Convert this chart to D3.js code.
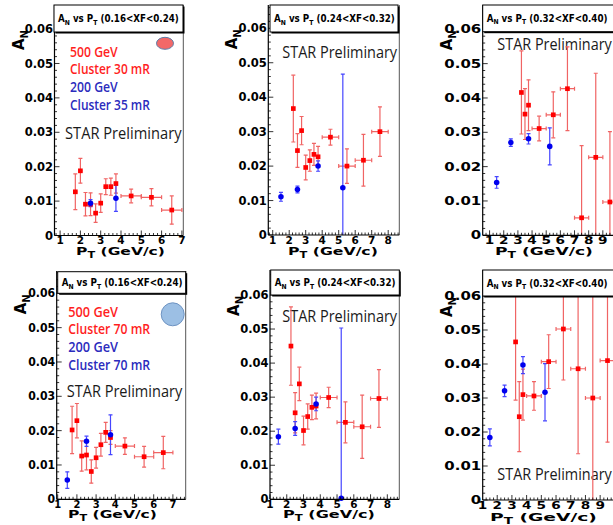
<!DOCTYPE html>
<html><head><meta charset="utf-8">
<script src="https://cdn.jsdelivr.net/npm/d3@7"></script>
<style>body{margin:0;background:#fff}svg{display:block}</style>
</head><body>
<svg id="c" width="613" height="525"></svg>
<script>
// ---------------- data ----------------
const titleRanges = ["(0.16<XF<0.24)", "(0.24<XF<0.32)", "(0.32<XF<0.40)",
                     "(0.16<XF<0.24)", "(0.24<XF<0.32)", "(0.32<XF<0.40)"];
const yTickValues = [0, 0.01, 0.02, 0.03, 0.04, 0.05, 0.06];
const yTickLabels = ["0", "0.01", "0.02", "0.03", "0.04", "0.05", "0.06"];
const xTicks7 = [1, 2, 3, 4, 5, 6, 7];
const xTicks8 = [1, 2, 3, 4, 5, 6, 7, 8];
const xTicks9 = [1, 2, 3, 4, 5, 6, 7, 8, 9];
const legendTop = ["500 GeV", "Cluster 30 mR", "200 GeV", "Cluster 35 mR"];
const legendBottom = ["500 GeV", "Cluster 70 mR", "200 GeV", "Cluster 70 mR"];
const starLabel = "STAR Preliminary";

// rows: [pT, A_N, x error, y error]
const top1Red = [[1.75,0.0127,0.1,0.0052],[2.0,0.0188,0.1,0.0036],[2.25,0.0091,0.1,0.0034],[2.5,0.0091,0.1,0.0033],
  [2.75,0.0065,0.1,0.0027],[3.0,0.0094,0.1,0.0027],[3.25,0.0142,0.1,0.0023],[3.5,0.0142,0.1,0.0025],
  [3.75,0.0151,0.1,0.0028],[4.5,0.0115,0.5,0.002],[5.5,0.0111,0.5,0.0025],[6.5,0.0074,0.5,0.0041]];
const top1Blue = [[2.5,0.0094,0.1,0.001],[3.75,0.0108,0.05,0.0038]];

const top2Red = [[2.25,0.0367,0.1,0.0097],[2.5,0.0245,0.1,0.0049],[2.75,0.0303,0.1,0.0041],[3.0,0.0196,0.1,0.0036],
  [3.25,0.0216,0.1,0.0031],[3.5,0.0234,0.1,0.0032],[3.75,0.0227,0.1,0.003],[4.5,0.0284,0.5,0.0023],
  [5.5,0.020,0.5,0.005],[6.5,0.0217,0.5,0.0075],[7.5,0.030,0.5,0.0072]];
const top2Blue = [[1.5,0.0111,0.1,0.0013],[2.5,0.0132,0.1,0.001],[3.75,0.020,0.1,0.0015],[5.25,0.0137,0.05,0.033]];

const top3Red = [[3.25,0.0416,0.1,0.0121],[3.5,0.0353,0.1,0.0074],[3.75,0.0379,0.1,0.0074],[4.5,0.0311,0.5,0.0036],
  [5.5,0.0351,0.5,0.0067],[6.5,0.0427,0.5,0.0122],[7.5,0.0051,0.5,0.021],[8.5,0.0227,0.5,0.0245],[9.5,0.0097,0.5,0.0205]];
const top3Blue = [[1.5,0.0154,0.1,0.0017],[2.5,0.027,0.1,0.0011],[3.75,0.0281,0.1,0.0015],[5.25,0.0259,0.05,0.0054]];

const bot1Red = [[1.75,0.0202,0.1,0.0069],[2.0,0.0229,0.1,0.005],[2.25,0.0126,0.1,0.0044],[2.5,0.0129,0.1,0.0043],
  [2.75,0.0081,0.1,0.0034],[3.0,0.0121,0.1,0.003],[3.25,0.0159,0.1,0.0033],[3.5,0.0195,0.1,0.0029],
  [3.75,0.018,0.1,0.002],[4.5,0.0155,0.5,0.0024],[5.5,0.0124,0.5,0.003],[6.5,0.0136,0.5,0.0047]];
const bot1Blue = [[1.5,0.0056,0.1,0.0024],[2.5,0.0169,0.1,0.0015],[3.75,0.0188,0.05,0.0058]];

const bot2Red = [[2.25,0.045,0.1,0.0115],[2.5,0.0254,0.1,0.0059],[2.75,0.0339,0.1,0.0049],[3.0,0.0202,0.1,0.0042],
  [3.25,0.0243,0.1,0.0037],[3.5,0.027,0.1,0.0036],[3.75,0.0274,0.1,0.0038],[4.5,0.0299,0.5,0.003],
  [5.5,0.0226,0.5,0.006],[6.5,0.0213,0.5,0.0093],[7.5,0.0296,0.5,0.0085]];
const bot2Blue = [[1.5,0.0184,0.1,0.0022],[2.5,0.0208,0.1,0.002],[3.75,0.028,0.1,0.002],[5.25,0.0003,0.05,0.05]];

const bot3Red = [[3.25,0.0465,0.1,0.0171],[3.5,0.0245,0.1,0.0103],[3.75,0.031,0.1,0.0075],[4.5,0.0306,0.5,0.0042],
  [5.5,0.0407,0.5,0.0079],[6.5,0.0503,0.5,0.015],[7.5,0.0386,0.5,0.025],[8.5,0.030,0.5,0.03],[9.5,0.041,0.5,0.024]];
const bot3Blue = [[1.5,0.0184,0.1,0.0025],[2.5,0.0321,0.1,0.0017],[3.75,0.0397,0.1,0.0025],[5.25,0.0317,0.05,0.0084]];

// ---------------- layout ----------------
const panels = [
 {red: top1Red, blue: top1Blue, title: titleRanges[0], xt: xTicks7, L:54.5, R:183.3, T:5, B:235.5, xd:[0.724,7.069], yd:[0,0.0670],
  box:[54,5,129,27], sx:1.0, xMinor:0.2, xlab:[76,254.5,89], star:[65,138.5,117], legend: legendTop,
  leg:[[70,56.5,48],[70,74,80],[70,92,48],[70,109.5,80]], mark:{type:"ellipse", cx:165, cy:43.3, rx:8.5, ry:6}},
 {red: top2Red, blue: top2Blue, title: titleRanges[1], xt: xTicks8, L:268.3, R:399.3, T:5, B:235, xd:[0.733,8.673], yd:[0,0.06676],
  box:[270,5,128,27], sx:1.0, xMinor:0.2, xlab:[288,254.5,90], star:[282.3,58.3,115.4]},
 {red: top3Red, blue: top3Blue, title: titleRanges[2], xt: xTicks9, L:482.7, R:640, T:5, B:235.3, xd:[0.514,11.625], yd:[0,0.06708],
  box:[482.7,5,160,26.7], sx:1.3, xMinor:0.25, xlab:[495,254.5,98], star:[497.3,50,115]},
 {red: bot1Red, blue: bot1Blue, title: titleRanges[3], xt: xTicks7, L:56.7, R:185.7, T:271, B:499.3, xd:[0.948,7.667], yd:[0,0.0665],
  box:[57.7,271.7,128,21.6], sx:0.95, xMinor:0.2, xlab:[68,518.3,89], star:[66.7,396.7,116], legend: legendBottom,
  leg:[[68.3,316.7,50],[68.3,334,82],[68.3,351.7,50],[68.3,370,82]], mark:{type:"circle", cx:172.7, cy:314.3, rx:11.5, ry:11.5}},
 {red: bot2Red, blue: bot2Blue, title: titleRanges[4], xt: xTicks8, L:270, R:399.3, T:270, B:499.3, xd:[1.0,8.715], yd:[0,0.06734],
  box:[270.7,270,128.6,25], sx:1.0, xMinor:0.2, xlab:[283,518.3,92], star:[282.3,321.7,115.4]},
 {red: bot3Red, blue: bot3Blue, title: titleRanges[5], xt: xTicks9, L:482.7, R:640, T:270, B:500, xd:[1.013,11.71], yd:[0,0.06765],
  box:[482.7,270,160,26], sx:1.3, xMinor:0.25, xlab:[490,520.5,107], star:[497.3,480,115]}
];

const AX = "DejaVu Sans, sans-serif";
const LEGF = "Open Sans, Lato, sans-serif";
const svg = d3.select("#c");
svg.append("rect").attr("width",613).attr("height",525).attr("fill","#fff");

function fit(sel, x, y, w) {
  const bw = sel.node().getBBox().width;
  sel.attr("x",0).attr("y",0).attr("transform",`translate(${x},${y}) scale(${w/bw},1)`);
}

panels.forEach((p, i) => {
  const g = svg.append("g");
  const x = d3.scaleLinear().domain(p.xd).range([p.L, p.R]);
  const y = d3.scaleLinear().domain(p.yd).range([p.B, p.T]);

  const cid = "clip" + i;
  g.append("clipPath").attr("id", cid).append("rect")
    .attr("x", p.L).attr("y", p.T).attr("width", p.R - p.L).attr("height", p.B - p.T);

  // frame right edge
  g.append("line").attr("x1",p.R).attr("x2",p.R).attr("y1",p.T).attr("y2",p.B).attr("stroke","#555").attr("stroke-width",1);

  // legend texts
  if (p.legend) {
    p.legend.forEach((t, k) => {
      const tx = g.append("text").text(t).attr("font-family",LEGF).attr("font-size",14)
        .attr("font-weight",600).attr("fill", k < 2 ? "#ff1e1e" : "#2b2bbd");
      fit(tx, p.leg[k][0], p.leg[k][1], p.leg[k][2]);
    });
  }
  if (p.mark) {
    g.append("ellipse").attr("cx",p.mark.cx).attr("cy",p.mark.cy).attr("rx",p.mark.rx).attr("ry",p.mark.ry)
      .attr("fill", p.mark.type === "ellipse" ? "#f26868" : "#9cbfe4")
      .attr("stroke", p.mark.type === "ellipse" ? "#5d7da6" : "#6e93c2").attr("stroke-width",1);
  }
  const st = g.append("text").text(starLabel).attr("font-family",LEGF).attr("font-size",17)
    .attr("font-weight",500).attr("fill","#1a1a1a");
  fit(st, p.star[0], p.star[1], p.star[2]);

  // error bars and markers
  const eg = g.append("g").attr("clip-path", `url(#${cid})`);
  function drawSeries(data, errColor, markColor, isBlue) {
    const s = eg.append("g").attr("stroke", errColor).attr("stroke-width", 1.2).attr("fill","none");
    data.forEach(d => {
      const cx = x(d[0]), cy = y(d[1]);
      const x0 = x(d[0]-d[2]), x1 = x(d[0]+d[2]);
      const y0 = y(d[1]-d[3]), y1 = y(d[1]+d[3]);
      s.append("line").attr("x1",cx).attr("x2",cx).attr("y1",y0).attr("y2",y1);
      s.append("line").attr("x1",x0).attr("x2",x1).attr("y1",cy).attr("y2",cy);
      s.append("line").attr("x1",cx-2).attr("x2",cx+2).attr("y1",y0).attr("y2",y0);
      s.append("line").attr("x1",cx-2).attr("x2",cx+2).attr("y1",y1).attr("y2",y1);
      if (!isBlue && d[2] > 0.2) {
        s.append("line").attr("x1",x0).attr("x2",x0).attr("y1",cy-2).attr("y2",cy+2);
        s.append("line").attr("x1",x1).attr("x2",x1).attr("y1",cy-2).attr("y2",cy+2);
      }
    });
    const sym = d3.symbol().type(isBlue ? d3.symbolCircle : d3.symbolSquare).size(isBlue ? 24 : 22);
    g.append("g").selectAll("path").data(data).join("path")
      .attr("d", sym).attr("transform", d => `translate(${x(d[0])},${y(d[1])})`)
      .attr("fill", markColor);
  }
  drawSeries(p.red, "#f06464", "#ff0000", false);
  drawSeries(p.blue, "#4646ff", "#0000ee", true);

  // axes
  const ax = g.append("g").attr("stroke","#000");
  ax.append("line").attr("x1",p.L).attr("x2",p.L).attr("y1",p.T).attr("y2",p.B).attr("stroke-width",1.2);
  ax.append("line").attr("x1",p.L).attr("x2",p.R).attr("y1",p.B).attr("y2",p.B).attr("stroke-width",1.2);
  const yMinor = d3.range(0, p.yd[1], 0.002);
  yMinor.forEach(v => {
    const major = Math.abs(v/0.01 - Math.round(v/0.01)) < 1e-6;
    ax.append("line").attr("x1",p.L).attr("x2",p.L + (major ? 5 : 2.5)).attr("y1",y(v)).attr("y2",y(v)).attr("stroke-width",0.8);
  });
  const xm = d3.range(Math.ceil(p.xd[0]/p.xMinor)*p.xMinor, p.xd[1], p.xMinor);
  xm.forEach(v => {
    const major = Math.abs(v - Math.round(v)) < 1e-6;
    ax.append("line").attr("x1",x(v)).attr("x2",x(v)).attr("y1",p.B).attr("y2",p.B - (major ? 5 : 2.5)).attr("stroke-width",0.8);
  });

  // y tick labels
  yTickValues.forEach((v, k) => {
    g.append("text").text(yTickLabels[k]).attr("font-family",AX).attr("font-weight","bold").attr("font-size",11.5)
      .attr("text-anchor","end").attr("dy","0.36em")
      .attr("transform",`translate(${p.L-1.5},${y(v)}) scale(${p.sx},1)`);
  });
  // x tick labels
  p.xt.forEach(v => {
    g.append("text").text(v).attr("font-family",AX).attr("font-weight","bold").attr("font-size",10.5)
      .attr("text-anchor","middle")
      .attr("transform",`translate(${x(v)},${p.B+8.5}) scale(${p.sx},1)`);
  });
  // x axis title
  const xl = g.append("text").attr("font-family",AX).attr("font-weight","bold").attr("font-size",11);
  xl.append("tspan").text("P");
  xl.append("tspan").text("T").attr("font-size",8).attr("dy",3);
  xl.append("tspan").text(" (GeV/c)").attr("dy",-3);
  fit(xl, p.xlab[0], p.xlab[1], p.xlab[2]);
  // y axis title
  const yl = g.append("text").attr("font-family",AX).attr("font-weight","bold").attr("font-size",15)
    .attr("text-anchor","end").attr("transform",`translate(${p.L-31},${y(0.06)+1}) rotate(-90)`);
  yl.append("tspan").text("A");
  yl.append("tspan").text("N").attr("font-size",10).attr("dy",4);

  // title box
  const b = p.box;
  g.append("rect").attr("x",b[0]+1.5).attr("y",b[1]+1.5).attr("width",b[2]).attr("height",b[3]).attr("fill","#000");
  g.append("rect").attr("x",b[0]).attr("y",b[1]).attr("width",b[2]).attr("height",b[3])
    .attr("fill","#fff").attr("stroke","#000").attr("stroke-width",1);
  const tt = g.append("text").attr("font-family",AX).attr("font-weight","bold").attr("font-size",10);
  tt.append("tspan").text("A");
  tt.append("tspan").text("N").attr("font-size",7).attr("dy",2.5);
  tt.append("tspan").text(" vs P").attr("dy",-2.5);
  tt.append("tspan").text("T").attr("font-size",7).attr("dy",2.5);
  tt.append("tspan").text(" " + p.title).attr("dy",-2.5);
  fit(tt, b[0] + 4, b[1] + b[3]/2 + 3.5, 121);
});
</script>
</body></html>
